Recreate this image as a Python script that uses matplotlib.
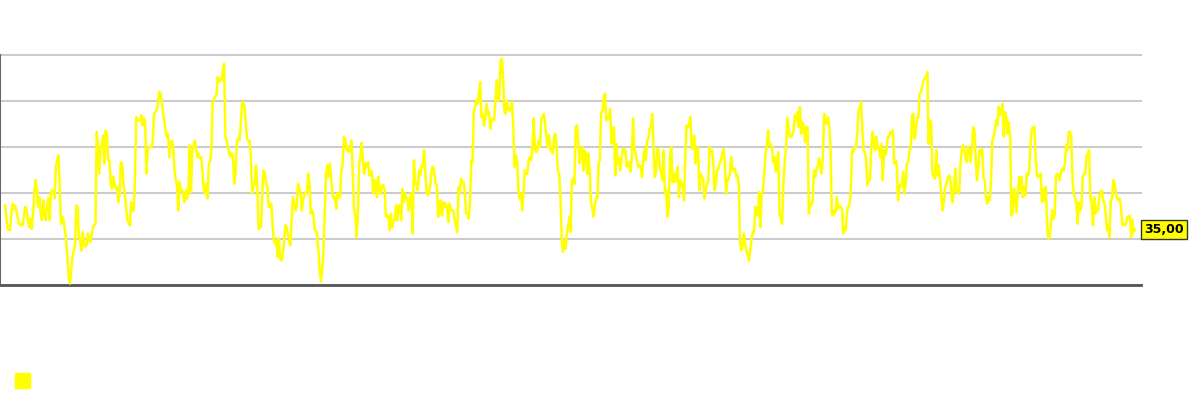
import numpy as np
import matplotlib
matplotlib.use("Agg")
import matplotlib.pyplot as plt
from matplotlib.patches import Rectangle

# Series values (one list per sixth of the chart)
seg1 = [40.3, 38.1, 35.2, 35.0, 34.9, 38.5, 40.7, 39.6, 40.3, 39.0, 37.8, 36.3, 36.0, 36.3, 36.0,
        38.5, 40.0, 39.2, 37.1, 35.6, 37.4, 35.2, 38.5, 42.9, 45.8, 43.9, 40.0, 42.1, 38.5, 37.1,
        41.4, 38.5, 37.1, 40.0, 41.8, 37.1, 42.9, 43.6, 43.3, 41.8, 49.0, 50.1, 51.2, 43.6, 36.3,
        37.8, 37.1, 35.0, 32.7, 29.1, 24.7, 23.3, 26.2, 29.1, 30.5, 31.3, 40.3, 40.0, 33.4, 32.7,
        30.5, 34.5, 32.0, 31.3, 31.6, 34.2, 33.0, 32.3, 33.8, 35.6, 36.0, 36.3, 56.3, 53.0, 47.2,
        53.0, 53.0, 55.5, 49.4, 56.6, 55.9, 50.1, 50.1, 45.0, 43.9, 46.5, 45.0, 43.9, 44.3, 41.0,
        42.9, 49.7, 49.0, 45.0, 42.9, 40.0, 37.1, 36.7, 36.0, 41.0, 39.2, 39.2, 45.8, 59.5, 58.8,
        58.8, 58.8, 59.9, 57.7, 59.2, 58.8, 47.2, 52.3, 53.0, 53.0, 53.0, 54.1, 60.2, 60.6, 61.0,
        62.1, 65.0, 64.6, 63.1, 60.6, 58.8, 56.6, 55.2, 55.9, 50.8, 53.7, 54.4, 53.0, 47.9, 46.1,
        44.7, 39.2, 45.4, 43.6, 43.6, 42.5, 41.0, 43.6, 41.8, 43.6, 53.4]
seg2 = [43.2, 52.3, 53.0, 54.4, 52.6, 50.8, 51.6, 50.5, 50.8, 47.6, 43.6, 42.9, 45.0, 41.8, 49.4,
        49.7, 52.3, 62.4, 63.5, 63.9, 64.6, 68.2, 67.1, 67.8, 67.5, 69.7, 71.1, 55.2, 54.4, 53.0,
        51.6, 50.8, 51.6, 50.8, 45.0, 47.2, 54.4, 54.8, 54.4, 57.3, 62.4, 62.8, 61.7, 58.1, 54.8,
        54.4, 54.4, 50.8, 42.9, 44.3, 44.7, 49.0, 45.0, 35.2, 35.6, 35.6, 43.6, 47.9, 47.2, 45.0,
        44.3, 40.0, 40.0, 40.7, 36.3, 32.7, 32.0, 32.7, 29.1, 33.1, 28.7, 28.3, 29.8, 32.0, 36.0,
        35.6, 34.2, 32.7, 31.6, 37.1, 42.1, 40.7, 39.2, 40.0, 45.0, 44.3, 42.9, 39.2, 41.4, 42.9,
        43.2, 42.9, 47.2, 45.0, 38.5, 39.2, 38.5, 34.9, 34.9, 34.2, 30.5, 26.2, 23.7, 26.2, 30.5,
        39.2, 47.2, 49.0, 46.5, 49.4, 46.5, 42.9, 41.8, 42.1, 39.6, 42.9, 42.1, 42.1, 47.6, 49.4,
        55.2, 54.8, 52.3, 53.0, 51.9, 52.6, 54.4, 46.5, 39.2, 38.1, 33.4, 38.5, 49.4, 50.8, 53.9,
        50.1, 47.2, 49.4, 48.7, 49.7, 46.8, 47.9, 47.6, 42.9, 45.8, 45.4, 42.1, 46.5, 42.9]
seg3 = [43.2, 44.7, 44.7, 43.6, 37.8, 38.1, 37.8, 34.9, 38.5, 35.6, 36.7, 37.1, 40.3, 37.1, 40.3,
        40.3, 37.1, 43.9, 41.0, 42.9, 42.1, 41.4, 39.2, 42.1, 42.9, 34.2, 50.1, 45.0, 45.0, 43.6,
        47.9, 46.8, 49.0, 48.7, 52.3, 47.2, 42.9, 42.5, 43.2, 45.0, 48.3, 48.7, 47.6, 45.0,
        44.7, 37.8, 38.9, 41.4, 38.1, 41.0, 39.9, 40.7, 39.9, 36.7, 40.7, 39.6, 39.2, 39.2, 37.1,
        35.6, 34.5, 44.3, 42.9, 46.1, 45.4, 45.4, 42.9, 38.5, 38.5, 37.4, 40.7, 50.1, 49.7, 60.6,
        61.7, 63.1, 62.4, 64.6, 67.1, 59.5, 60.2, 57.7, 59.2, 62.4, 60.2, 60.6, 57.0, 58.8, 59.2,
        58.8, 63.1, 67.5, 63.1, 63.5, 71.8, 72.2, 68.2, 60.6, 60.2, 63.1, 61.3, 60.9, 61.3, 62.8,
        57.3, 48.7, 51.2, 50.1, 43.6, 41.8, 42.9, 39.2, 42.9, 47.9, 47.2, 47.2, 50.1, 50.8, 50.1,
        53.0, 59.2, 52.3, 51.9, 52.3, 54.4, 53.0, 59.2, 59.5, 60.2, 58.1, 55.2, 53.0, 55.5, 52.3,
        53.0, 51.6, 55.2, 55.9, 53.0, 47.6, 47.2, 42.1, 33.4, 30.2, 32.7, 30.9, 34.2, 35.6, 37.8]
seg4 = [34.5, 45.8, 46.1, 45.0, 57.3, 57.7, 54.4, 49.4, 51.6, 53.0, 47.9, 52.3,
        51.6, 47.2, 51.6, 47.2, 41.0, 39.9, 37.8, 39.9, 42.1, 41.8, 49.4, 50.1, 60.6, 60.6, 63.9,
        64.6, 58.8, 59.5, 59.2, 61.3, 53.7, 57.0, 57.3, 46.8, 53.7, 49.4, 50.5, 47.9, 50.5, 52.6,
        52.6, 52.3, 48.7, 49.0, 49.7, 47.6, 50.8, 59.2, 52.6, 51.6, 50.1, 48.7, 49.0, 48.7, 46.5,
        50.1, 52.6, 50.1, 54.4, 54.8, 57.0, 57.3, 60.2, 53.7, 46.5, 47.6, 52.6, 52.3, 48.3, 47.6,
        45.8, 52.3, 42.9, 43.6, 37.8, 39.9, 50.8, 53.0, 45.4, 47.2, 45.4, 46.5, 48.7, 42.1, 45.8,
        44.7, 45.0, 41.4, 50.8, 57.7, 57.3, 57.7, 59.5, 52.6, 53.0, 55.5, 49.4, 52.3, 53.0, 43.6,
        47.2, 46.5, 46.1, 41.8, 43.6, 45.0, 45.4, 53.0, 51.9, 52.3, 49.4, 43.6, 45.0, 47.9, 48.3,
        49.4, 50.1, 51.6, 52.6, 50.1, 42.9, 46.1, 46.1, 47.2, 50.8, 48.3, 47.9, 48.3, 46.5, 46.8,
        45.0, 32.0, 30.5, 31.6, 34.2, 32.0, 30.2, 29.8, 28.3, 30.5, 33.1, 34.5, 34.5, 40.0,
        38.5, 38.1, 43.2]
seg5 = [35.6, 42.9, 43.6, 47.2, 51.6, 53.0, 56.6, 53.4, 53.7, 53.0, 49.7, 50.8, 47.6, 49.7,
        51.9, 38.1, 37.8, 36.3, 45.0, 49.4, 52.6, 59.2, 57.3, 55.2, 55.2, 55.5, 56.6, 59.9,
        58.8, 60.6, 57.3, 61.7, 55.9, 58.4, 57.7, 54.1, 57.3, 57.3, 38.5, 40.7, 40.3, 41.4, 47.9,
        46.5, 48.3, 48.7, 50.5, 49.0, 47.2, 50.8, 60.2, 58.1, 58.1, 59.5, 57.3, 53.0, 38.5, 38.1,
        39.2, 38.8, 42.1, 39.6, 40.3, 39.9, 39.6, 34.2, 35.6, 34.9, 39.2, 40.0, 40.3, 44.3, 52.3,
        51.9, 53.0, 53.0, 55.9, 61.0, 61.3, 62.8, 56.6, 52.3, 51.6, 50.1, 44.7, 45.8, 45.8, 53.0,
        56.3, 53.9, 52.3, 55.2, 52.6, 53.0, 50.8, 53.7, 45.8, 52.3, 51.2, 52.6, 55.2, 55.2, 56.3,
        55.9, 56.6, 49.4, 50.1, 49.0, 41.4, 44.7, 44.3, 45.0, 47.6, 42.9, 45.0, 49.4, 49.7, 52.3,
        52.6, 59.9, 60.2, 54.8, 56.6, 59.5, 59.5, 64.6, 65.0, 66.1, 67.5, 67.9, 68.2, 69.3, 53.7,
        58.8, 58.4, 47.2, 46.5, 46.1, 52.3, 46.8, 49.0, 46.1, 42.1, 39.2, 41.4, 44.3, 45.0,
        46.1, 46.8]
seg6 = [46.5, 42.1, 41.0, 45.0, 48.3, 43.2, 43.6, 42.9, 49.4, 52.3, 53.4, 52.6, 50.8, 49.7, 53.0,
        52.6, 49.7, 53.0, 57.3, 56.6, 50.1, 45.8, 48.7, 52.3, 51.6, 52.6, 46.5, 45.8, 41.8, 40.7,
        42.1, 41.4, 45.8, 54.4, 55.2, 56.6, 58.8, 57.7, 61.7, 59.9, 60.6, 62.4, 55.2, 60.6, 59.5,
        55.9, 58.4, 55.2, 38.1, 38.8, 43.9, 42.1, 38.8, 43.6, 46.5, 43.6, 46.5, 42.1, 44.3, 42.5,
        47.2, 46.8, 47.9, 53.7, 57.0, 57.3, 57.3, 50.8, 46.8, 46.5, 46.8, 47.2, 41.0, 43.9, 41.4,
        44.3, 36.3, 33.1, 33.4, 36.3, 39.2, 37.4, 38.5, 46.8, 47.2, 46.8, 45.8, 47.6, 48.3, 47.9,
        49.4, 53.4, 52.3, 56.3, 56.3, 55.2, 45.8, 42.9, 42.1, 40.7, 36.3, 41.0, 39.2, 39.9, 46.5,
        47.2, 47.2, 51.2, 51.6, 52.3, 42.1, 40.7, 36.0, 42.1, 38.5, 39.9, 39.2, 42.1, 43.2, 43.6,
        41.4, 40.7, 38.5, 34.9, 36.0, 33.4, 41.4, 41.8, 45.8, 45.0, 43.0, 41.8, 41.4, 41.8, 40.0,
        36.0, 36.3, 36.0, 36.3, 37.8, 37.8, 38.1, 33.4, 37.1, 34.5, 35.0]

values = np.array(seg1 + seg2 + seg3 + seg4 + seg5 + seg6)
last_label = "35,00"
y_min, y_max, y_step = 23, 73, 10

LINE = "#ffff00"

fig = plt.figure(figsize=(12, 4), dpi=100)
ax = fig.add_axes([0.0, 1 - 285 / 400, 1141 / 1200, 230 / 400])

n = len(values)
x = np.arange(n)
ax.plot(x, values, color=LINE, lw=1.8, solid_joinstyle="round", zorder=3)

ppi = 1130 / (n - 1)
ax.set_xlim(-5 / ppi, (n - 1) + 6 / ppi)
ax.set_ylim(y_min, y_max)
ax.set_yticks(np.arange(y_min, y_max + 0.1, y_step))
ax.yaxis.grid(True, color="#cccccc", lw=1.5)
for gl in ax.get_ygridlines():
    gl.set_clip_on(False)
ax.set_axisbelow(True)
ax.tick_params(left=False, bottom=False, labelleft=False, labelbottom=False)
ax.set_xticks([])
for s in ["top", "right"]:
    ax.spines[s].set_visible(False)
ax.spines["left"].set_color("#666666")
ax.spines["left"].set_linewidth(1.5)
ax.spines["bottom"].set_color("#555555")
ax.spines["bottom"].set_linewidth(2)

ax.annotate(last_label, xy=(1.0, values[-1]), xycoords=("axes fraction", "data"),
            xytext=(2, 0), textcoords="offset points", ha="left", va="center",
            fontsize=9, fontweight="bold", color="black",
            bbox=dict(boxstyle="square,pad=0.25", fc=LINE, ec="#333333", lw=1))

fig.add_artist(Rectangle((15 / 1200, 1 - 388 / 400), 15 / 1200, 15 / 400,
                         transform=fig.transFigure, color=LINE))

fig.savefig("out.png", dpi=100)
